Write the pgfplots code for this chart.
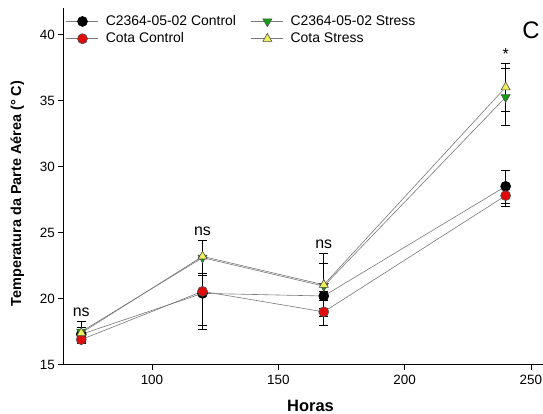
\documentclass[border=0pt]{standalone}
\usepackage{fontspec}
\setmainfont{Liberation Sans}
\usepackage{pgfplots}
\pgfplotsset{compat=1.18}
\definecolor{mred}{RGB}{225,10,10}
\definecolor{mgreen}{RGB}{20,160,20}
\definecolor{myellow}{RGB}{240,240,90}
\definecolor{lgray}{RGB}{120,120,120}
\begin{document}
\begin{tikzpicture}
\begin{axis}[
  scale only axis,
  width=480bp, height=356.7bp,
  xmin=64.9, xmax=254.9,
  ymin=15, ymax=42,
  axis x line*=bottom, axis y line*=left,
  axis line style={black, line width=0.6pt},
  xtick={100,150,200,250}, ytick={15,20,25,30,35,40},
  tick align=outside, major tick length=5bp,
  tick style={black, line width=0.6pt},
  minor tick num=0,
  /pgf/number format/assume math mode=true,
  ticklabel style={font=\fontsize{13.5}{15}\selectfont},
  xticklabel style={yshift=-2bp},
  xlabel={\textbf{Horas}},
  ylabel={\textbf{Temperatura da Parte Aérea (° C)}},
  xlabel style={font=\fontsize{16.5}{18}\selectfont, at={(axis description cs:0.515,0)}, anchor=base, yshift=-46.5bp},
  ylabel style={font=\fontsize{14.5}{16}\selectfont, at={(axis description cs:0,0.48)}, anchor=center, yshift=46bp},
  clip=false,
  legend columns=2, transpose legend,
  legend style={draw=none, fill=none, at={(axis description cs:0,1)}, anchor=north west,
    xshift=2.7bp, yshift=-6.5bp,
    font=\fontsize{14}{16}\selectfont, row sep=3.8bp,
    nodes={inner sep=0pt, text height=10.5bp, text depth=3bp},
    /tikz/every odd column/.append style={column sep=7bp},
    /tikz/every even column/.append style={column sep=15bp},
    inner sep=0pt},
  legend cell align=left,
  legend image code/.code={
    \draw[#1] (0bp,0bp) -- (32bp,0bp);
    \path plot[#1] coordinates {(16bp,0bp)};
  },
]
% C2364-05-02 Control
\addplot[lgray, line width=0.6pt, mark=*, mark size=5bp,
  mark options={fill=black, draw=black, solid},
  error bars/.cd, y dir=both, y explicit,
  error bar style={black, line width=0.6pt},
  error mark options={rotate=90, mark size=4.5bp, line width=0.6pt, black}]
  coordinates {(72,17.3) +- (0,0.5) (120,20.4) +- (0,2.7) (168,20.2) +- (0,0.35) (240,28.5) +- (0,1.25)};
\addlegendentry{C2364-05-02 Control}
% Cota Control
\addplot[lgray, line width=0.6pt, mark=*, mark size=5bp,
  mark options={fill=mred, draw=black!70, solid},
  error bars/.cd, y dir=both, y explicit,
  error bar style={black, line width=0.6pt},
  error mark options={rotate=90, mark size=4.5bp, line width=0.6pt, black}]
  coordinates {(72,16.9) +- (0,0.3) (120,20.55) +- (0,2.6) (168,19.0) +- (0,1.05) (240,27.8) +- (0,0.8)};
\addlegendentry{Cota Control}
% C2364-05-02 Stress
\addplot[lgray, line width=0.6pt, mark=triangle*, mark size=5.2bp,
  mark options={fill=mgreen, draw=black!70, solid, rotate=180},
  error bars/.cd, y dir=both, y explicit,
  error bar style={black, line width=0.6pt},
  error mark options={rotate=90, mark size=4.5bp, line width=0.6pt, black}]
  coordinates {(72,17.5) +- (0,0.8) (120,23.1) +- (0,1.35) (168,20.95) +- (0,1.7) (240,35.25) +- (0,2.15)};
\addlegendentry{C2364-05-02 Stress}
% Cota Stress
\addplot[lgray, line width=0.6pt, mark=triangle*, mark size=5.2bp,
  mark options={fill=myellow, draw=black!70, solid},
  error bars/.cd, y dir=both, y explicit,
  error bar style={black, line width=0.6pt},
  error mark options={rotate=90, mark size=4.5bp, line width=0.6pt, black}]
  coordinates {(72,17.4) +- (0,0.4) (120,23.2) +- (0,1.25) (168,21.05) +- (0,2.35) (240,36.0) +- (0,1.8)};
\addlegendentry{Cota Stress}
\node[font=\fontsize{16}{18}\selectfont] at (axis cs:72,19.0) {ns};
\node[font=\fontsize{16}{18}\selectfont] at (axis cs:120,25.1) {ns};
\node[font=\fontsize{16}{18}\selectfont] at (axis cs:168,24.1) {ns};
\node[font=\fontsize{16}{18}\selectfont] at (axis cs:240,38.5) {*};
\node[font=\fontsize{24}{26}\selectfont] at (axis cs:250,40.3) {C};
\end{axis}
\pgfresetboundingbox
\path (current axis.south west) ++(-63.3bp,-49.3bp) rectangle ++(543bp,414bp);
\end{tikzpicture}
\end{document}
